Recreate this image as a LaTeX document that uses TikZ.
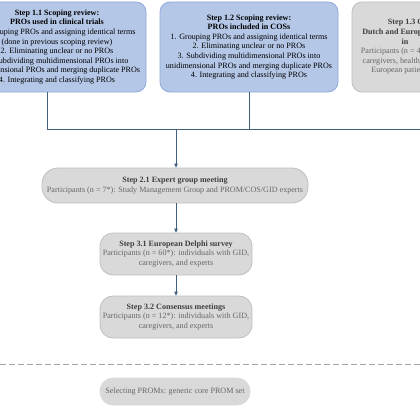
\documentclass[tikz,border=0pt]{standalone}
\usepackage{fontspec}
\setmainfont{Liberation Serif}
\usetikzlibrary{arrows.meta}
\definecolor{bluefill}{HTML}{B4C7E7}
\definecolor{blueline}{HTML}{8FAADC}
\definecolor{grayfill}{HTML}{D9D9D9}
\definecolor{grayline}{HTML}{BFBFBF}
\definecolor{conn}{HTML}{44607F}
\definecolor{titlegray}{HTML}{3F3F3F}
\definecolor{textgray}{HTML}{666666}
\definecolor{dashgray}{HTML}{A6A6A6}
\begin{document}
\begin{tikzpicture}[x=1pt,y=-1pt,
  boxbase/.style={rectangle, line width=0.8pt, inner sep=0pt},
  bluebox/.style={boxbase, rounded corners=10pt, fill=bluefill, draw=blueline, minimum width=178pt, minimum height=90pt},
  grayboxtop/.style={boxbase, rounded corners=10pt, fill=grayfill, draw=grayline, minimum width=178pt, minimum height=90pt},
  graybox/.style={boxbase, fill=grayfill, draw=grayline},
  txt/.style={align=center, font=\fontsize{8.1}{9.6}\selectfont, inner sep=0pt},
  conline/.style={draw=conn, line width=0.9pt},
  arrowline/.style={conline, -{Triangle[length=4pt,width=3.6pt]}},
  dashline/.style={draw=dashgray, line width=1pt, dash pattern=on 5.5pt off 3.5pt}
]
\path[use as bounding box, clip] (0,0) rectangle (420,420);

% Top row boxes
\node[bluebox] (b11) at (57,47) {};
\node[txt, text=black] (t11) at (b11.center) {\textbf{Step 1.1 Scoping review:}\\\textbf{PROs used in clinical trials}\\1. Grouping PROs and assigning identical terms\\(done in previous scoping review)\\2. Eliminating unclear or no PROs\\3. Subdividing multidimensional PROs into\\unidimensional PROs and merging duplicate PROs\\4. Integrating and classifying PROs};

\node[bluebox] (b12) at (249,47) {};
\node[txt, text=black] (t12) at (b12.center) {\textbf{Step 1.2 Scoping review:}\\\textbf{PROs included in COSs}\\1. Grouping PROs and assigning identical terms\\2. Eliminating unclear or no PROs\\3. Subdividing multidimensional PROs into\\unidimensional PROs and merging duplicate PROs\\4. Integrating and classifying PROs};

\node[grayboxtop] (b13) at (441,47) {};
\node[txt, text=textgray] (t13) at (b13.center) {\textcolor{titlegray}{\textbf{Step 1.3 Questionnaire survey:}}\\\textcolor{titlegray}{\textbf{Dutch and European PROs and PROMs used}}\\\makebox[79pt][l]{\textcolor{titlegray}{\textbf{in}}}\\Participants (n = 40*): individuals with GID, and\\caregivers, healthcare professionals, and experts\\European patient organisations and experts};

% Step 2.1
\node[graybox, rounded corners=16pt, minimum width=266pt, minimum height=35pt] (b21) at (175,185.5) {};
\node[txt, text=textgray] (t21) at (b21.center) {\textcolor{titlegray}{\textbf{Step 2.1 Expert group meeting}}\\Participants (n = 7*): Study Management Group and PROM/COS/GID experts};

% Step 3.1 and 3.2
\node[graybox, rounded corners=13pt, minimum width=152pt, minimum height=42pt] (b31) at (176,254) {};
\node[txt, text=textgray] (t31) at (b31.center) {\textcolor{titlegray}{\textbf{Step 3.1 European Delphi survey}}\\Participants (n = 60*): individuals with GID,\\caregivers, and experts};

\node[graybox, rounded corners=13pt, minimum width=152pt, minimum height=42pt] (b32) at (176,317) {};
\node[txt, text=textgray] (t32) at (b32.center) {\textcolor{titlegray}{\textbf{Step 3.2 Consensus meetings}}\\Participants (n = 12*): individuals with GID,\\caregivers, and experts};

% Final box
\node[graybox, draw=grayfill, rounded corners=13pt, minimum width=150pt, minimum height=27pt] (b41) at (175,391.5) {};
\node[txt, text=textgray] (t41) at (b41.center) {Selecting PROMs: generic core PROM set};

% Connectors
\coordinate (hub) at (176,129);
\coordinate (c11) at (47,92);
\draw[conline] (c11) -- (c11 |- hub) -- (b13.south |- hub) -- (b13.south);
\draw[conline] (b12.south) -- (b12.south |- hub);
\draw[arrowline] (hub) -- (hub |- b21.north);
\draw[arrowline] (b21.south -| b31.north) -- (b31.north);
\draw[arrowline] (b31.south) -- (b32.north);

% Dashed separator
\coordinate (dl) at (0,364);
\coordinate (dr) at (420,364);
\draw[dashline] (dl) -- (dr);
\end{tikzpicture}
\end{document}
